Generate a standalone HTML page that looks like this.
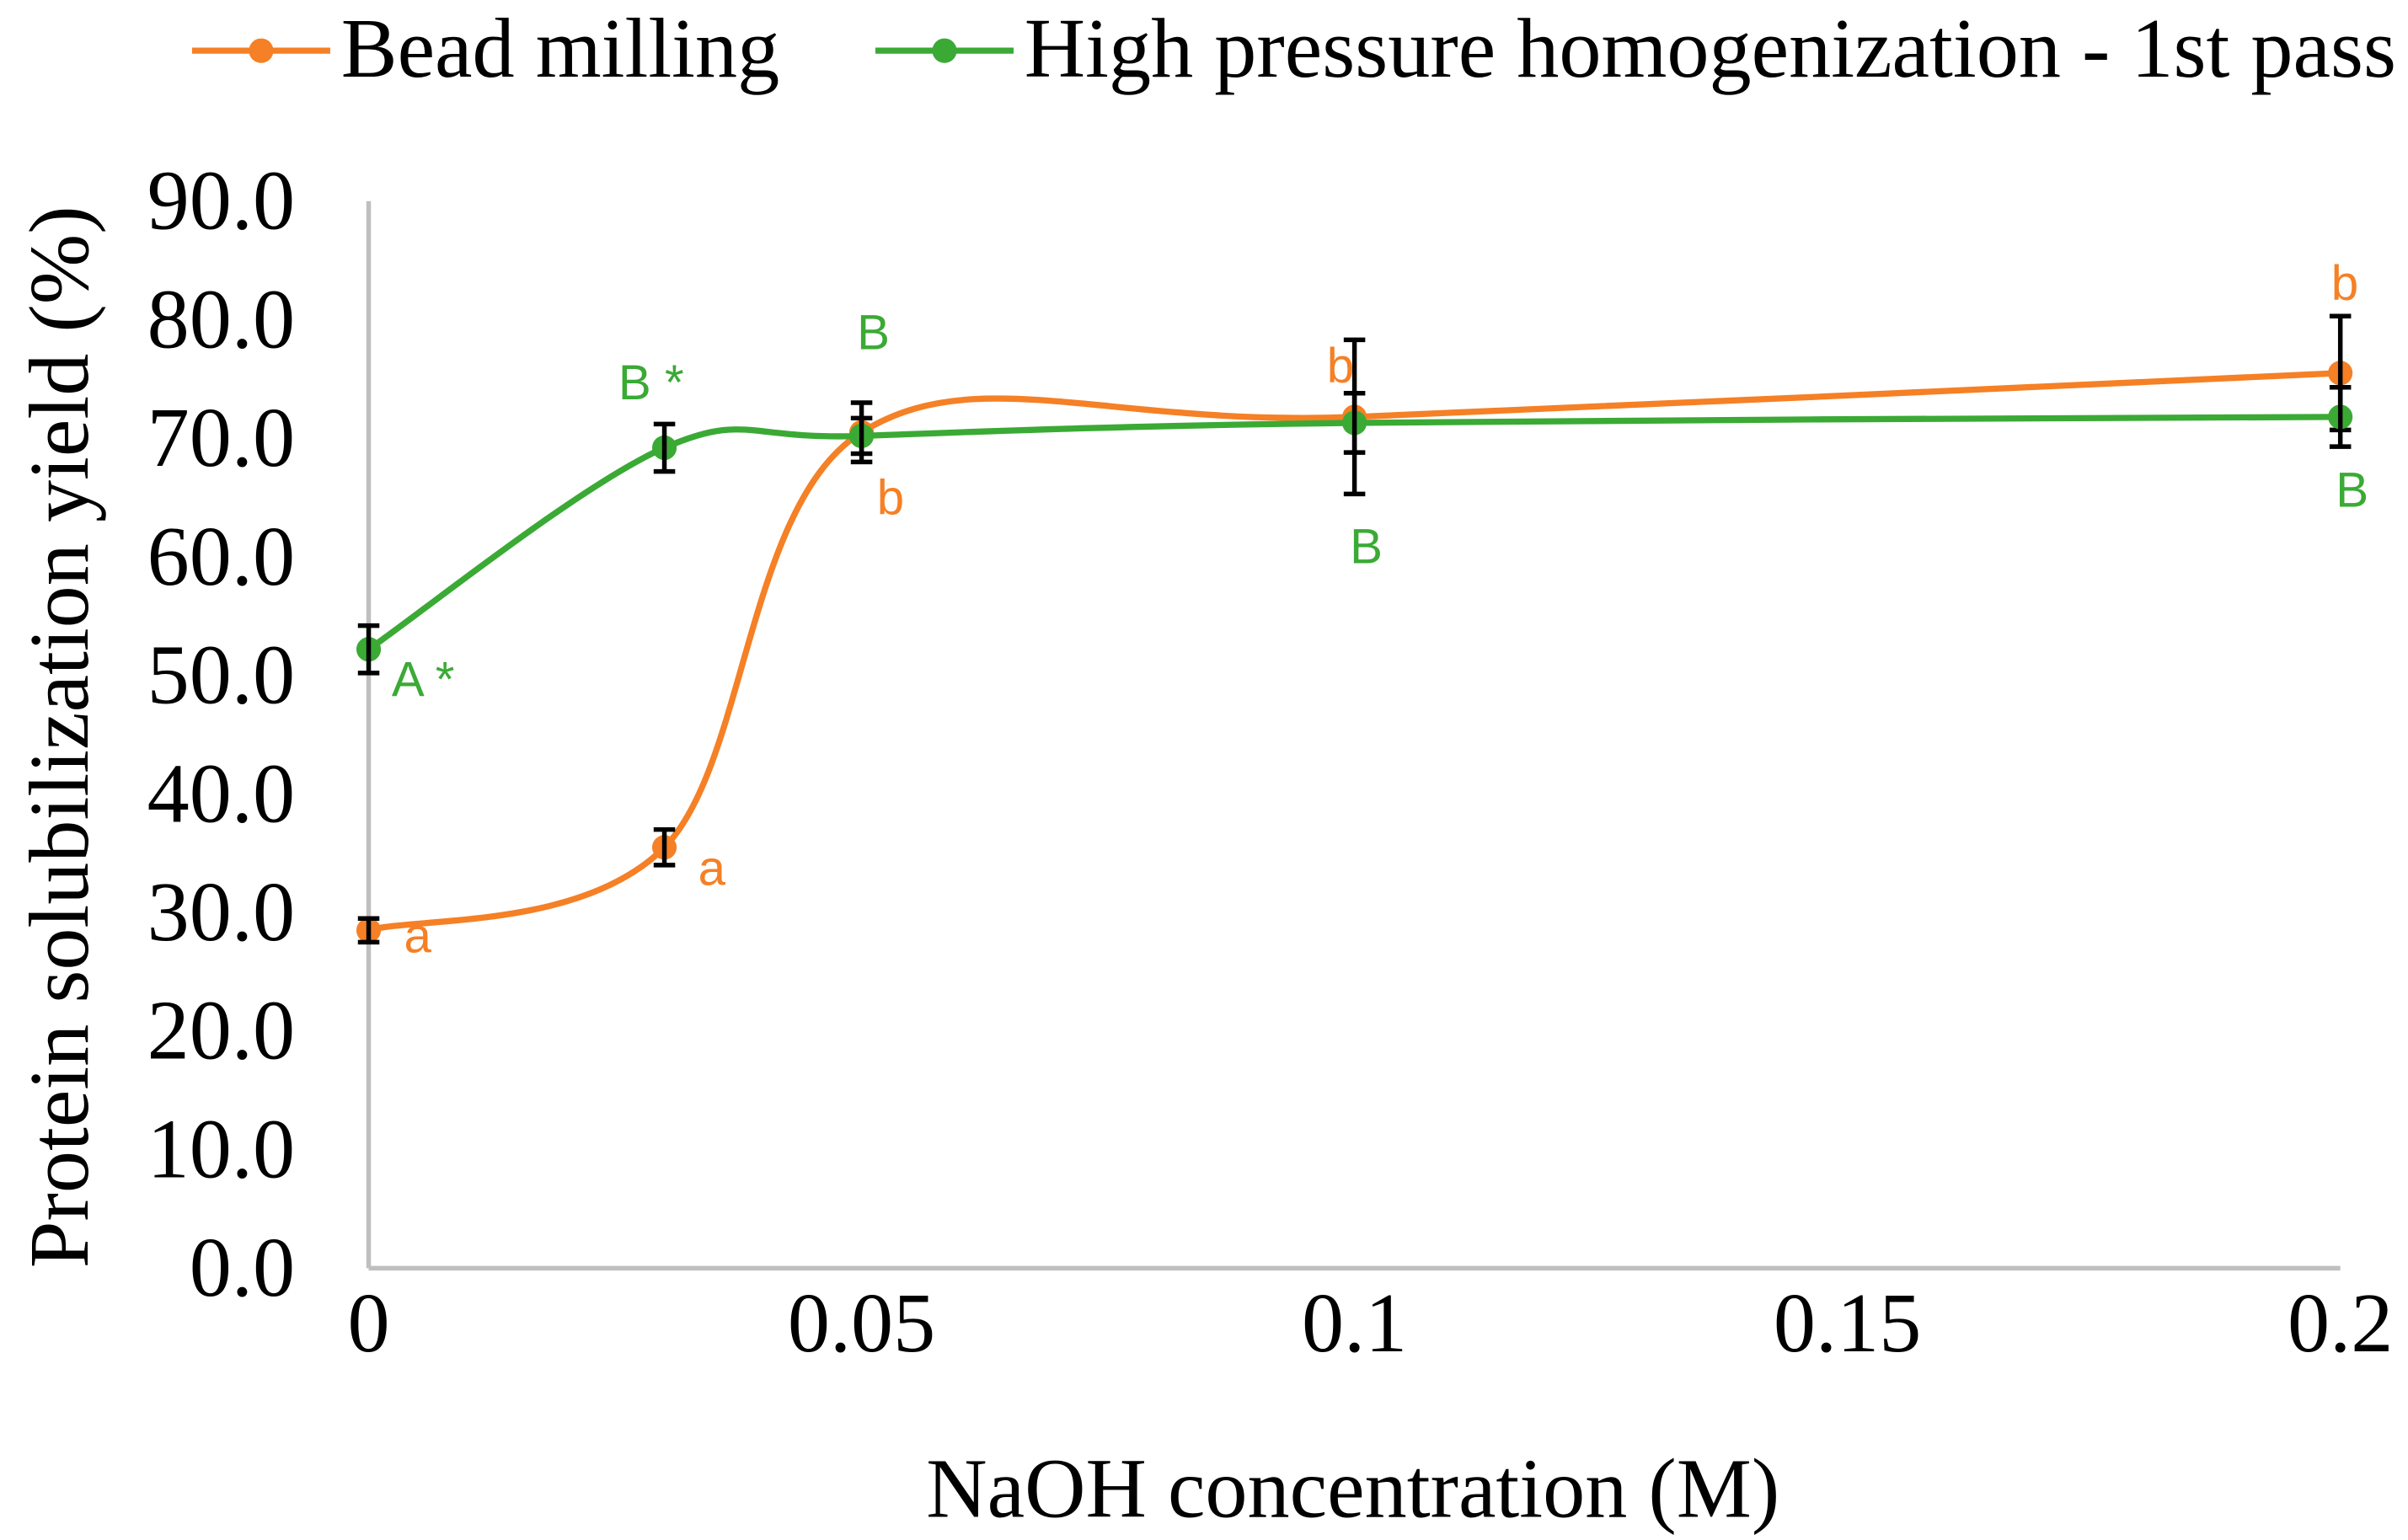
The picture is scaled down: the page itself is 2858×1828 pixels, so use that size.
<!DOCTYPE html>
<html><head><meta charset="utf-8"><style>
html,body{margin:0;padding:0;background:#fff;}
svg{display:block;}
</style></head><body>
<svg id="chart" width="2858" height="1828" viewBox="0 0 1568 1003" xmlns="http://www.w3.org/2000/svg">
<rect width="1568" height="1003" fill="#fff"/>
<g id="legend">
 <g>
  <line x1="125" y1="33" x2="215" y2="33" stroke="#f58025" stroke-width="4"/>
  <circle cx="170" cy="33" r="8" fill="#f58025"/>
  <text x="222" y="50" font-family="Liberation Serif, serif" font-size="55" fill="#000">Bead milling</text>
 </g>
 <g>
  <line x1="570" y1="33" x2="660" y2="33" stroke="#3aaa35" stroke-width="4"/>
  <circle cx="615" cy="33" r="8" fill="#3aaa35"/>
  <text x="667" y="50" font-family="Liberation Serif, serif" font-size="55" fill="#000">High pressure homogenization - 1st pass</text>
 </g>
</g>
<g id="axes"></g>
<g id="series"></g>
<g id="annots"></g>
</svg>
<script>
const xTicks = [0, 0.05, 0.1, 0.15, 0.2];
const xTickLabels = ["0", "0.05", "0.1", "0.15", "0.2"];
const yTicks = [0,10,20,30,40,50,60,70,80,90];
const yTickLabels = ["0.0","10.0","20.0","30.0","40.0","50.0","60.0","70.0","80.0","90.0"];
const xValues = [0, 0.03, 0.05, 0.1, 0.2];
const beadValues = [28.5, 35.5, 70.5, 71.8, 75.5];
const beadErrors = [1.0, 1.5, 2.5, 6.5, 4.8];
const hphValues = [52.2, 69.2, 70.2, 71.3, 71.8];
const hphErrors = [2.0, 2.0, 1.5, 2.5, 2.5];
const beadLetters = ["a","a","b","b","b"];
const hphLetters = ["A *","B *","B","B","B"];

const NS = "http://www.w3.org/2000/svg";
const X0=240, X1=1524, Y0=826, Y1=131;
function sx(v){return X0+(v-0)/(0.2-0)*(X1-X0);}
function sy(v){return Y0-(v/90)*(Y0-Y1);}
function mk(tag, attrs, parent){const e=document.createElementNS(NS,tag);for(const k in attrs)e.setAttribute(k,attrs[k]);parent.appendChild(e);return e;}

const axes=document.getElementById('axes');
const yAxis=mk('line',{x1:X0,y1:Y1,x2:X0,y2:Y0,stroke:'#bfbfbf','stroke-width':3},axes);


const xAxis=mk('line',{x1:X0,y1:Y0,x2:X1,y2:Y0,stroke:'#bfbfbf','stroke-width':3},axes);


yTicks.forEach((t,i)=>{
  const tx=mk('text',{x:192,y:sy(t)+18,'text-anchor':'end','font-family':'Liberation Serif, serif','font-size':55,fill:'#000'},axes);
  tx.textContent=yTickLabels[i];
  
  
});
xTicks.forEach((t,i)=>{
  const tx=mk('text',{x:sx(t),y:880,'text-anchor':'middle','font-family':'Liberation Serif, serif','font-size':55,fill:'#000'},axes);
  tx.textContent=xTickLabels[i];
  
  
});
const xt=mk('text',{x:881,y:988,'text-anchor':'middle','font-family':'Liberation Serif, serif','font-size':55,fill:'#000'},axes);
xt.textContent='NaOH concentration (M)';


const yt=mk('text',{x:0,y:0,transform:'translate(57,480) rotate(-90)','text-anchor':'middle','font-family':'Liberation Serif, serif','font-size':55,fill:'#000'},axes);
yt.textContent='Protein solubilization yield  (%)';



function smoothPath(pts){
  let d='M'+pts[0][0]+','+pts[0][1];
  for(let i=0;i<pts.length-1;i++){
    const p0=pts[i-1]||pts[i],p1=pts[i],p2=pts[i+1],p3=pts[i+2]||p2;
    const c1=[p1[0]+(p2[0]-p0[0])/6,p1[1]+(p2[1]-p0[1])/6];
    const c2=[p2[0]-(p3[0]-p1[0])/6,p2[1]-(p3[1]-p1[1])/6];
    d+=' C'+c1+' '+c2+' '+p2;
  }
  return d;
}
const series=document.getElementById('series');
function drawSeries(vals,errs,color,name){
  const pts=xValues.map((x,i)=>[sx(x),sy(vals[i])]);
  const p=mk('path',{d:smoothPath(pts),fill:'none',stroke:color,'stroke-width':4},series);
  
  
  pts.forEach((pt,i)=>{
    const c=mk('circle',{cx:pt[0],cy:pt[1],r:8,fill:color},series);
    
    
  });
  pts.forEach((pt,i)=>{
    const t=sy(vals[i]+errs[i]), b=sy(vals[i]-errs[i]);
    const g=mk('path',{d:`M${pt[0]},${t}V${b}M${pt[0]-7},${t}H${pt[0]+7}M${pt[0]-7},${b}H${pt[0]+7}`,stroke:'#000','stroke-width':3,fill:'none'},series);
    
    
  });
}
drawSeries(beadValues,beadErrors,'#f58025','bead-milling');
drawSeries(hphValues,hphErrors,'#3aaa35','hph');

const annots=document.getElementById('annots');
const beadOff=[[23,6],[22,16],[10,45],[-18,-31],[-6,-56]];
const hphOff=[[15,22],[-30,-40],[-3,-65],[-3,83],[-3,50]];
function ann(txt,x,y,color,name){
  const t=mk('text',{x:x,y:y,'text-anchor':'start','dominant-baseline':'middle','font-family':'Liberation Sans, DejaVu Sans, sans-serif','font-size':32,fill:color},annots);
  t.textContent=txt;
  
  
}
xValues.forEach((x,i)=>{
  ann(beadLetters[i],sx(x)+beadOff[i][0],sy(beadValues[i])+beadOff[i][1],'#f58025','bead-letter');
  ann(hphLetters[i],sx(x)+hphOff[i][0],sy(hphValues[i])+hphOff[i][1],'#3aaa35','hph-letter');
});
</script>
</body></html>
